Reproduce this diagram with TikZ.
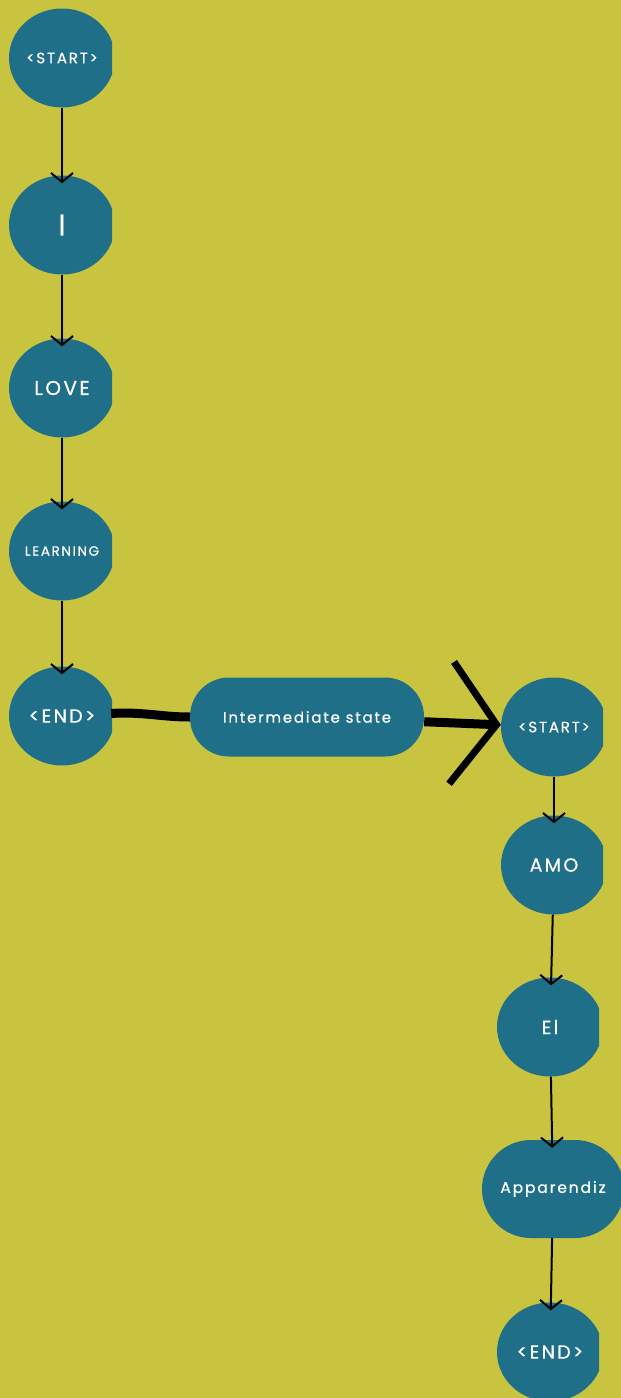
\documentclass[tikz,border=0pt]{standalone}
\usepackage{fontspec}
\setmainfont{Poppins}[LetterSpace=12, FakeBold=0.6]
\usetikzlibrary{shapes.geometric,arrows.meta}

\definecolor{bgyellow}{HTML}{C9C440}
\definecolor{nodeteal}{HTML}{1F6F88}

\tikzset{
    bubble/.style={ellipse, fill=nodeteal, text=white, inner sep=0pt,
        minimum width=106pt, minimum height=99pt, font=\fontsize{15}{15}\selectfont},
    pill/.style={rectangle, fill=nodeteal, text=white, inner sep=0pt,
        font=\fontsize{15}{15}\selectfont},
    flow/.style={line width=2pt, -{Straight Barb[length=9pt,width=22pt]}, shorten >=-8pt},
    heavy flow/.style={line width=9pt},
}

\begin{document}
\begin{tikzpicture}[x=1pt, y=-1pt]
        \fill[bgyellow] (0,0) rectangle (621,1398);
        \useasboundingbox (0,0) rectangle (621,1398);
        % first sentence
        \begin{scope}
            \clip (0,0) rectangle (112,800);
            \node[bubble] (start) at (62,58) {<START>};
            \node[bubble, font=\fontsize{30}{30}\selectfont] (i) at (62,225) {I};
            \node[bubble, font=\fontsize{20}{20}\selectfont] (love) at (62,388) {LOVE};
            \node[bubble, font=\fontsize{13.5}{13.5}\selectfont] (learning) at (62,551) {LEARNING};
            \node[bubble, font=\fontsize{19}{19}\selectfont] (end) at (62,716) {<END>};
        \end{scope}
        \node[pill, rounded corners=39pt, minimum width=234pt, minimum height=79pt] (mid) at (307,717) {Intermediate state};
        % second sentence
        \begin{scope}
            \clip (400,600) rectangle (603,950);
            \node[bubble] (start2) at (554,727) {<START>};
            \node[bubble, font=\fontsize{19}{19}\selectfont] (amo) at (554,865) {AMO};
        \end{scope}
        \begin{scope}
            \clip (400,950) rectangle (599,1398);
            \node[bubble, font=\fontsize{19}{19}\selectfont] (ei) at (550,1027) {El};
            \node[bubble, font=\fontsize{19}{19}\selectfont] (end2) at (550,1352) {<END>};
        \end{scope}
        \node[pill, rounded corners=49pt, minimum width=142pt, minimum height=98pt, font=\fontsize{15.5}{15.5}\selectfont] (appr) at (553,1189) {Apparendiz};
        \draw[flow] (start) -- (i);
        \draw[flow] (i) -- (love);
        \draw[flow] (love) -- (learning);
        \draw[flow] (learning) -- (end);
        \draw[heavy flow, shorten <=-4pt] (end) to[out=3, in=180] (mid);
        \draw[heavy flow, -{Straight Barb[length=45pt,width=122pt,line width=7pt]}] (mid) -- (start2);
        \draw[flow] (start2) -- (amo);
        \draw[flow] (amo) -- (ei);
        \draw[flow] (ei) -- (appr);
        \draw[flow] (appr) -- (end2);
\end{tikzpicture}
\end{document}
